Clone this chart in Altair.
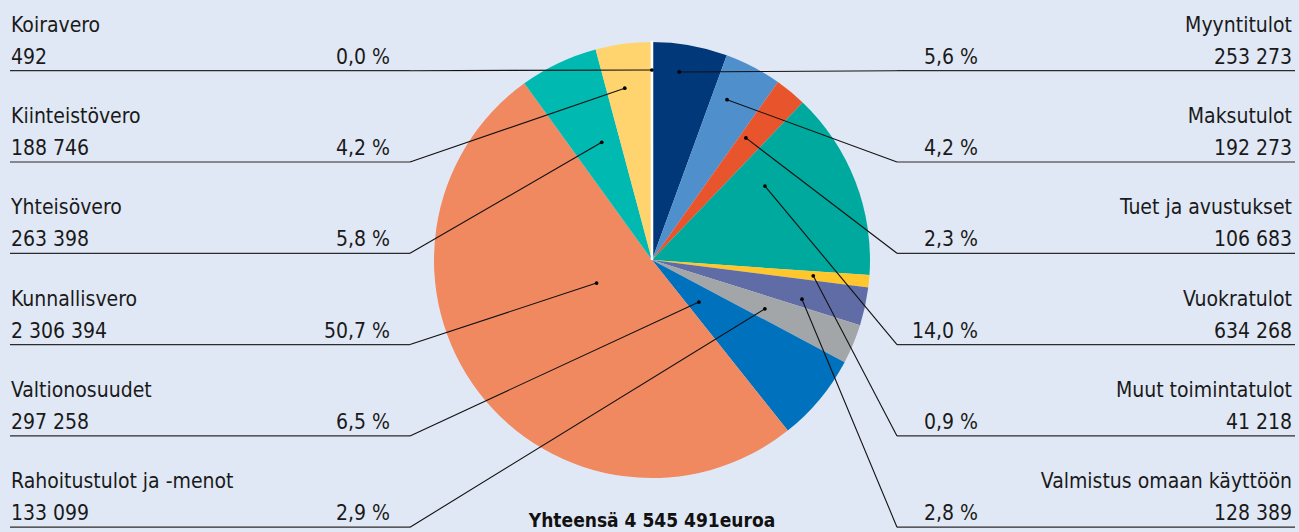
import math
import altair as alt
import pandas as pd

# ---------------- data ----------------
names = ["Myyntitulot", "Maksutulot", "Tuet ja avustukset", "Vuokratulot",
         "Muut toimintatulot", "Valmistus omaan käyttöön",
         "Rahoitustulot ja -menot", "Valtionosuudet", "Kunnallisvero",
         "Yhteisövero", "Kiinteistövero", "Koiravero"]
values = [253273, 192273, 106683, 634268, 41218, 128389,
          133099, 297258, 2306394, 263398, 188746, 492]
colors = ["#00387A", "#4F8FCB", "#E8542B", "#00A99D", "#FFC72C", "#5F6CA6",
          "#A3A6A9", "#0071BC", "#F08860", "#00BAB2", "#FFD36E", "#FFFFFF"]
sides = ["right"] * 6 + ["left"] * 6
rows = [0, 1, 2, 3, 4, 5, 5, 4, 3, 2, 1, 0]

# ---------------- layout ----------------
W, H = 1299, 532
CX, CY, R = 652, 260, 218
ROW0, STEP = 70.7, 91.3
# leader anchor: fraction along slice angle, radius in px
anchor_frac = [0.41, 0.33, 0.27, 0.26, 0.5, 0.73, 0.57, 0.59, 0.58, 0.61, 0.4, 0.0]
anchor_r = [190, 177, 154, 135, 162, 155, 123, 63, 60, 128, 174, 190]
FONT = "DejaVu Sans Condensed, sans-serif"
FS = 21
TXT = "#1a1a1a"
LINE = "#2b2b2b"
BG = "#E1E8F5"

total = sum(values)


def fi_num(v):
    return f"{v:,}".replace(",", " ")


pct = [f"{v / total * 100:.1f}".replace(".", ",") + " %" for v in values]

df = pd.DataFrame({
    "order": list(range(len(names))),
    "name": names,
    "value": values,
    "vlabel": [fi_num(v) for v in values],
    "pct": pct,
    "side": sides,
    "row": rows,
    "frac": anchor_frac,
    "ar": anchor_r,
})

base = (
    alt.Chart(df)
    .transform_joinaggregate(total="sum(value)")
    .transform_window(cum="sum(value)", sort=[alt.SortField("order")], frame=[None, 0])
    .transform_calculate(ang="2*PI*((datum.cum - datum.value) + datum.frac*datum.value)/datum.total")
    .transform_calculate(dx=f"{CX} + datum.ar*sin(datum.ang)")
    .transform_calculate(dy=f"{CY} - datum.ar*cos(datum.ang)")
    .transform_calculate(ry=f"{ROW0} + datum.row*{STEP}")
    .transform_calculate(x0="datum.side == 'left' ? 10 : 1295")
    .transform_calculate(xb="datum.side == 'left' ? 410 : 897")
    .transform_calculate(ny="datum.ry - 39")
    .transform_calculate(vy="datum.ry - 7")
)

pie = alt.Chart(df).mark_arc(outerRadius=R, stroke="white").encode(
    theta=alt.Theta("value:Q", stack=True),
    color=alt.Color("name:N", scale=alt.Scale(domain=names, range=colors), legend=None),
    order=alt.Order("order:Q"),
    strokeWidth=alt.condition("datum.name == 'Koiravero'", alt.value(2.5), alt.value(0)),
    x=alt.value(CX),
    y=alt.value(CY),
)

hline = base.mark_rule(color=LINE, strokeWidth=1.2).encode(
    x=alt.X("x0:Q", scale=None), x2="xb:Q", y=alt.Y("ry:Q", scale=None)
)
dline = base.mark_rule(color="#111111", strokeWidth=1.1).encode(
    x=alt.X("xb:Q", scale=None), x2="dx:Q",
    y=alt.Y("ry:Q", scale=None), y2="dy:Q",
)
dots = base.mark_circle(color="#000000", opacity=1, size=14).encode(
    x=alt.X("dx:Q", scale=None), y=alt.Y("dy:Q", scale=None)
)


def txt(side, field, xpos, ypos, align):
    return (
        base.transform_filter(f"datum.side == '{side}'")
        .mark_text(align=align, baseline="alphabetic", font=FONT, fontSize=FS, color=TXT)
        .encode(x=alt.value(xpos), y=alt.Y(f"{ypos}:Q", scale=None), text=f"{field}:N")
    )


texts = [
    txt("left", "name", 11, "ny", "left"),
    txt("left", "vlabel", 11, "vy", "left"),
    txt("left", "pct", 390, "vy", "right"),
    txt("right", "name", 1292, "ny", "right"),
    txt("right", "vlabel", 1292, "vy", "right"),
    txt("right", "pct", 978, "vy", "right"),
]

tot_df = pd.DataFrame({"label": ["Yhteensä " + fi_num(total) + "euroa"]})
total_text = alt.Chart(tot_df).mark_text(
    align="center", baseline="alphabetic", font=FONT, fontSize=19,
    fontWeight="bold", color="#111111"
).encode(x=alt.value(CX), y=alt.value(527), text="label:N")

chart = alt.layer(pie, hline, dline, dots, *texts, total_text).properties(
    width=W, height=H, autosize="none", padding=0, background=BG
).configure_view(stroke=None)

chart.save("out.html", embed_options={"renderer": "svg", "actions": False})
